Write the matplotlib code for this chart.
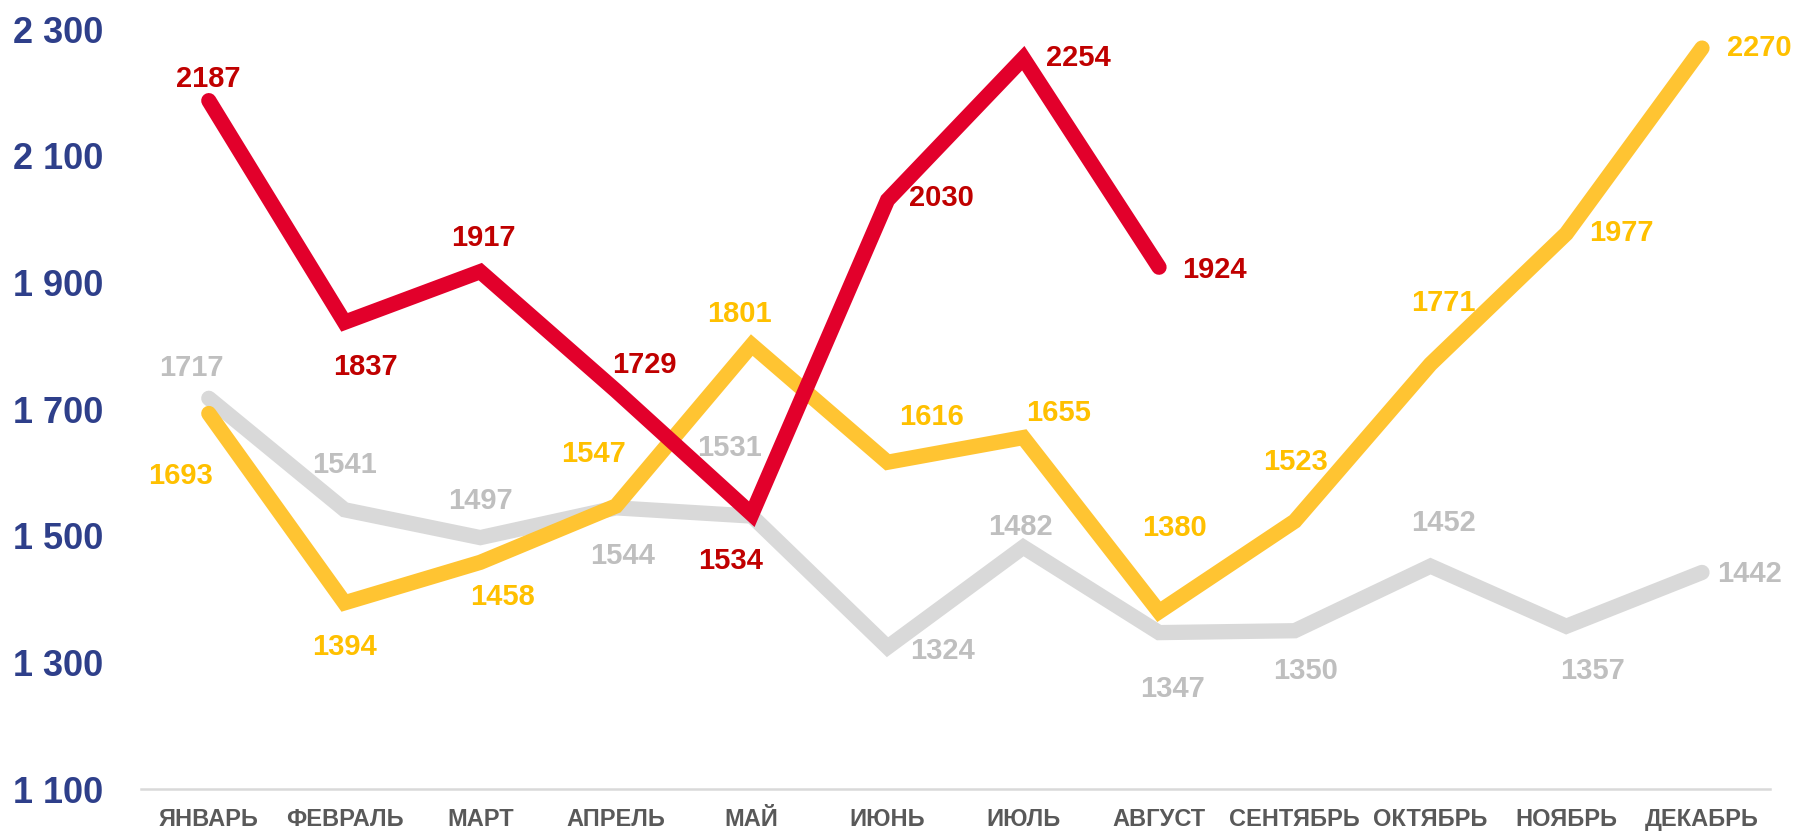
import matplotlib.pyplot as plt
from matplotlib.ticker import FuncFormatter

plt.rcParams["font.family"] = ["Liberation Sans", "DejaVu Sans"]

months = ["ЯНВАРЬ", "ФЕВРАЛЬ", "МАРТ", "АПРЕЛЬ", "МАЙ", "ИЮНЬ",
          "ИЮЛЬ", "АВГУСТ", "СЕНТЯБРЬ", "ОКТЯБРЬ", "НОЯБРЬ", "ДЕКАБРЬ"]

gray_vals = [1717, 1541, 1497, 1544, 1531, 1324, 1482, 1347, 1350, 1452, 1357, 1442]
yellow_vals = [1693, 1394, 1458, 1547, 1801, 1616, 1655, 1380, 1523, 1771, 1977, 2270]
red_vals = [2187, 1837, 1917, 1729, 1534, 2030, 2254, 1924]

y_ticks = [1100, 1300, 1500, 1700, 1900, 2100, 2300]

# label offsets in pixels (dx, dy), dy positive = up
gray_off = [(-17, 30), (0, 45), (0, 37), (7, -48), (-22, 68), (55, -4),
            (-3, 20), (13, -56), (11, -40), (13, 43), (26, -45), (48, -2)]
yellow_off = [(-28, -63), (0, -44), (22, -35), (-23, 52), (-12, 31), (44, 45),
              (35, 25), (15, 84), (1, 59), (13, 61), (55, 1), (57, 0)]
red_off = [(-1, 22), (21, -45), (3, 34), (28, 26), (-21, -47), (54, 2),
           (55, 0), (55, -3)]

fig = plt.figure(figsize=(17.93, 8.31), dpi=100)
ax = fig.add_axes([0.0786, 0.0505, 0.9085, 0.9145])

x_all = list(range(len(months)))

series = [
    (gray_vals, "#D9D9D9", "#BFBFBF", gray_off, 1),
    (yellow_vals, "#FFC432", "#FFC000", yellow_off, 2),
    (red_vals, "#E2002B", "#C00000", red_off, 3),
]

for vals, line_c, text_c, offs, z in series:
    xs = x_all[:len(vals)]
    ax.plot(xs, vals, color=line_c, lw=11, solid_capstyle="round",
            solid_joinstyle="miter", zorder=z)
    for xi, v, (dx, dy) in zip(xs, vals, offs):
        ax.annotate(str(v), (xi, v), xytext=(dx, dy), textcoords="offset pixels",
                    ha="center", va="center", fontsize=21, fontweight="bold",
                    color=text_c, zorder=5)

ax.set_xlim(-0.5, len(months) - 0.5)
ax.set_ylim(1100, 2300)
ax.set_xticks(x_all)
ax.set_xticklabels(months, fontsize=17, fontweight="bold", color="#595959")
ax.set_yticks(y_ticks)
ax.yaxis.set_major_formatter(FuncFormatter(lambda v, p: f"{int(v):,}".replace(",", " ")))
for lbl in ax.get_yticklabels():
    lbl.set_fontsize(26)
    lbl.set_fontweight("bold")
    lbl.set_color("#2E3F8A")

ax.tick_params(axis="y", length=0, pad=27)
ax.tick_params(axis="x", length=0, pad=14)

for side in ["top", "right", "left"]:
    ax.spines[side].set_visible(False)
ax.spines["bottom"].set_color("#D9D9D9")
ax.spines["bottom"].set_linewidth(1.8)

fig.savefig("out.png", dpi=100)
